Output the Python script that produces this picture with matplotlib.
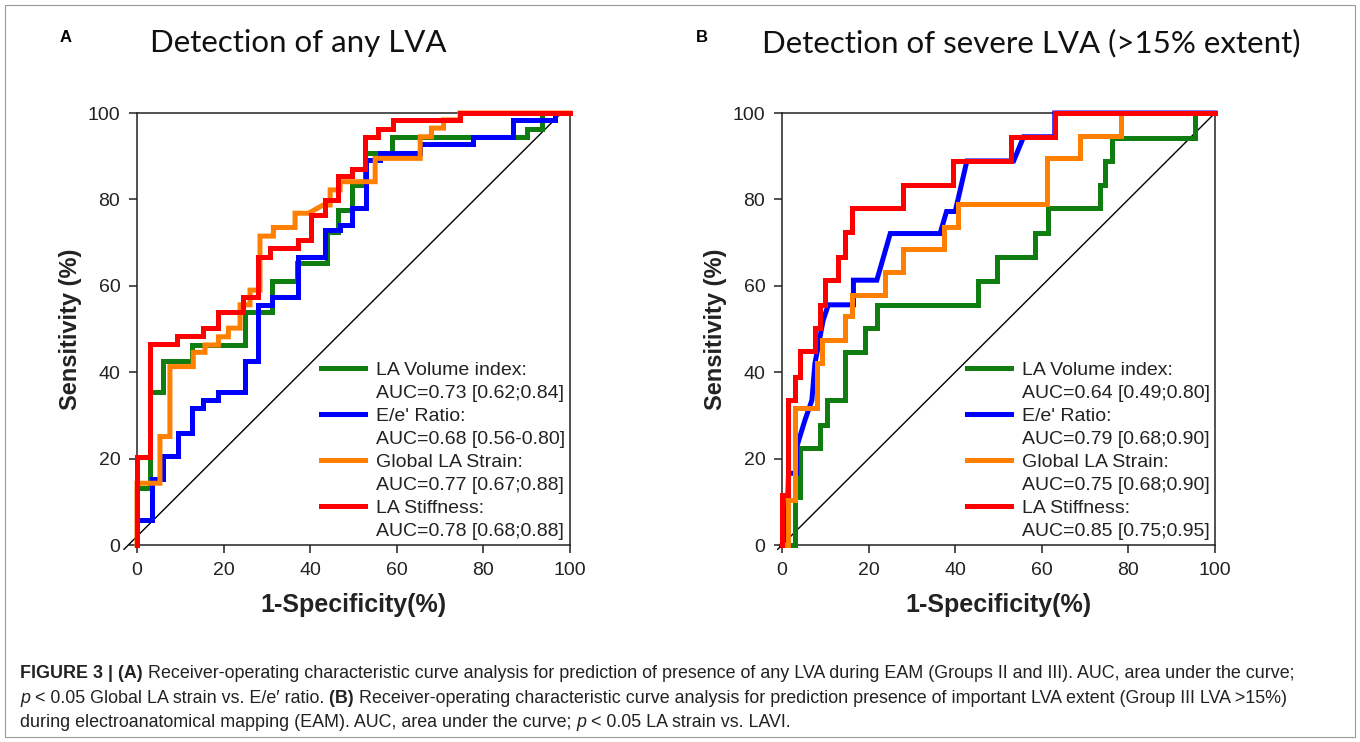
import matplotlib
matplotlib.use("Agg")
import matplotlib.pyplot as plt
from matplotlib.lines import Line2D
from matplotlib.patches import Rectangle

# ---------------- data ----------------
# Panel A: Detection of any LVA
a_lavi_x = [0, 0, 3, 3, 6.1, 6.1, 12.6, 12.6, 24.9, 24.9, 31.1, 31.1, 36.9, 36.9, 43.8, 43.8, 46.5, 46.5,
            49.6, 49.6, 52.7, 52.7, 58.8, 58.8, 90, 90, 93.5, 93.5, 100]
a_lavi_y = [0, 13.2, 13.2, 35.5, 35.5, 42.7, 42.7, 46.3, 46.3, 54, 54, 61.1, 61.1, 65.2, 65.2, 72.5, 72.5, 77.5,
            77.5, 83.3, 83.3, 90.7, 90.7, 94.5, 94.5, 96.3, 96.3, 100, 100]

a_ee_x = [0, 0, 3.4, 3.4, 6.1, 6.1, 9.5, 9.5, 12.6, 12.6, 15.3, 15.3, 18.8, 18.8, 24.9, 24.9, 28, 28, 31.1, 31.1,
          37.2, 37.2, 43.4, 43.4, 46.9, 46.9, 49.6, 49.6, 53, 53, 56.1, 56.1, 65.4, 65.4, 77.7, 77.7, 86.9, 86.9,
          96.5, 96.5, 100]
a_ee_y = [0, 5.8, 5.8, 15.2, 15.2, 20.6, 20.6, 26, 26, 31.6, 31.6, 33.6, 33.6, 35.5, 35.5, 42.7, 42.7, 55.6, 55.6, 57.5,
          57.5, 66.7, 66.7, 72.9, 72.9, 74, 74, 77.9, 77.9, 89.1, 89.1, 90.7, 90.7, 92.8, 92.8, 94.5, 94.5, 98.4,
          98.4, 100, 100]

a_strain_x = [0, 0, 5.3, 5.3, 7.6, 7.6, 13, 13, 15.7, 15.7, 18.8, 18.8, 21.1, 21.1, 23.8, 23.8, 26.1, 26.1, 28.4, 28.4,
              31.5, 31.5, 36.5, 36.5, 39.6, 43, 44.6, 44.6, 46.9, 46.9, 55, 55, 65.4, 65.4, 68, 68, 70.8, 70.8,
              74.6, 74.6, 100]
a_strain_y = [0, 14.3, 14.3, 25.1, 25.1, 41.3, 41.3, 44.6, 44.6, 46.3, 46.3, 48.2, 48.2, 50.2, 50.2, 55.6, 55.6, 59, 59, 71.5,
              71.5, 73.5, 73.5, 76.8, 76.8, 78.7, 78.7, 82.2, 82.2, 84.1, 84.1, 89.5, 89.5, 94.5, 94.5, 96.5, 96.5, 98.4,
              98.4, 100, 100]

a_stiff_x = [0, 0, 3, 3, 9.2, 9.2, 15.3, 15.3, 18.7, 18.7, 24.5, 24.5, 28, 28, 30.7, 30.7, 37.2, 37.2, 40.3, 40.3,
             43.4, 43.4, 46.5, 46.5, 49.6, 49.6, 52.7, 52.7, 55.7, 55.7, 59.1, 59.1, 74.6, 74.6, 100]
a_stiff_y = [0, 20.4, 20.4, 46.5, 46.5, 48.4, 48.4, 50.2, 50.2, 54, 54, 57.5, 57.5, 66.7, 66.7, 68.7, 68.7, 70.6, 70.6, 76.4,
             76.4, 79.9, 79.9, 85.4, 85.4, 87, 87, 94.5, 94.5, 96.3, 96.3, 98.4, 98.4, 100, 100]

# Panel B: Detection of severe LVA (>15% extent)
b_lavi_x = [0, 3, 3, 4.2, 4.2, 8.8, 8.8, 10.3, 10.3, 14.5, 14.5, 19.2, 19.2, 21.9, 21.9, 45.3, 45.3, 49.6, 49.6,
            58.4, 58.4, 61.5, 61.5, 73.4, 73.4, 74.6, 74.6, 76.1, 76.1, 95.4, 95.4, 100]
b_lavi_y = [0, 0, 11.2, 11.2, 22.4, 22.4, 27.8, 27.8, 33.6, 33.6, 44.7, 44.7, 50.2, 50.2, 55.6, 55.6, 61.1, 61.1, 66.7,
            66.7, 72.2, 72.2, 77.9, 77.9, 83.3, 83.3, 88.9, 88.9, 94.1, 94.1, 100, 100]

b_ee_x = [0, 1.2, 1.5, 3.4, 3.4, 5.3, 6.9, 7.6, 9.5, 10.7, 16.5, 16.5, 21.9, 25, 36.5, 38, 40, 42.7, 53.5, 55.8, 63, 63, 100]
b_ee_y = [0, 5, 16.6, 16.6, 22.7, 28.9, 33.5, 42.0, 52, 55.6, 55.6, 61.3, 61.3, 72.1, 72.1, 77.2, 77.2, 88.9, 88.9, 94.5,
          94.5, 100, 100]

b_strain_x = [0, 1.5, 1.5, 3, 3, 8, 8, 9.2, 9.2, 14.5, 14.5, 16.1, 16.1, 23.8, 23.8, 28, 28, 37.3, 37.3, 40.7, 40.7,
              61.1, 61.1, 68.8, 68.8, 78.4, 78.4, 100]
b_strain_y = [0, 0, 10.4, 10.4, 31.6, 31.6, 42.1, 42.1, 47.5, 47.5, 52.9, 52.9, 57.9, 57.9, 63.3, 63.3, 68.5, 68.5, 73.7,
              73.7, 78.9, 78.9, 89.5, 89.5, 94.7, 94.7, 100, 100]

b_stiff_x = [0, 0, 1.5, 1.5, 3, 3, 4.2, 4.2, 7.6, 7.6, 8.8, 8.8, 9.9, 9.9, 13, 13, 14.5, 14.5, 16.1, 16.1, 28, 28,
             39.6, 39.6, 53, 53, 63, 63, 100]
b_stiff_y = [0, 11.6, 11.6, 33.6, 33.6, 39, 39, 44.8, 44.8, 50.2, 50.2, 55.6, 55.6, 61.3, 61.3, 66.7, 66.7, 72.4, 72.4,
             77.9, 77.9, 83.3, 83.3, 88.9, 88.9, 94.5, 94.5, 100, 100]

series_names = ["LA Volume index:", "E/e' Ratio:", "Global LA Strain:", "LA Stiffness:"]
a_auc = ["AUC=0.73 [0.62;0.84]", "AUC=0.68 [0.56-0.80]", "AUC=0.77 [0.67;0.88]", "AUC=0.78 [0.68;0.88]"]
b_auc = ["AUC=0.64 [0.49;0.80]", "AUC=0.79 [0.68;0.90]", "AUC=0.75 [0.68;0.90]", "AUC=0.85 [0.75;0.95]"]
colors = ["#0f7d0f", "#0000ff", "#ff7f00", "#ff0000"]
ticks = [0, 20, 40, 60, 80, 100]
titles = ["Detection of any LVA", "Detection of severe LVA (>15% extent)"]
panel_letters = ["A", "B"]

# ---------------- fonts ----------------
sans = ["Liberation Sans", "DejaVu Sans"]
title_font = ["Lato", "DejaVu Sans"]
plt.rcParams["font.family"] = sans

fig = plt.figure(figsize=(13.6, 7.42), dpi=100)
W, H = 1360, 742

def fx(px):
    return px / W

def fy(py):
    return 1 - py / H

panels = [
    (137, [(a_lavi_x, a_lavi_y), (a_ee_x, a_ee_y), (a_strain_x, a_strain_y), (a_stiff_x, a_stiff_y)], a_auc,
     [(-3, -1), (98, 100)]),
    (782, [(b_lavi_x, b_lavi_y), (b_ee_x, b_ee_y), (b_strain_x, b_strain_y), (b_stiff_x, b_stiff_y)], b_auc,
     [(-1, -1), (100, 100)]),
]

axes = []
for i, (left_px, curves, aucs, diag) in enumerate(panels):
    ax = fig.add_axes([fx(left_px), fy(545), 433 / W, 432 / H])
    axes.append(ax)
    ax.plot([diag[0][0], diag[1][0]], [diag[0][1], diag[1][1]], color="black", lw=1.0, clip_on=False, zorder=2)
    handles, labels = [], []
    for (xs, ys), c, name, auc in zip(curves, colors, series_names, aucs):
        ax.plot(xs, ys, color=c, lw=3.6, solid_joinstyle="miter", clip_on=False, zorder=3)
        handles += [Line2D([], [], color=c, lw=3.6), Line2D([], [], color="none")]
        labels += [name, auc]
    ax.set_xlim(0, 100)
    ax.set_ylim(0, 100)
    ax.set_xticks(ticks)
    ax.set_yticks(ticks)
    ax.tick_params(direction="out", length=6, width=1.1, labelsize=14, pad=6, colors="#222222")
    for s in ax.spines.values():
        s.set_linewidth(1.1)
        s.set_color("#222222")
    ax.set_xlabel("1-Specificity(%)", fontsize=18, fontweight="bold", labelpad=10, color="#222222")
    ax.set_ylabel("Sensitivity (%)", fontsize=17, fontweight="bold", labelpad=4, color="#222222")
    leg = ax.legend(handles, labels, loc="lower right", bbox_to_anchor=(1.0, 0.0), frameon=False,
                    fontsize=14, handlelength=2.3, handletextpad=0.55, labelspacing=0.28,
                    borderaxespad=0.05, borderpad=0.2)
    for t in leg.get_texts():
        t.set_color("#222222")

fig.text(fx(60), fy(42), panel_letters[0], fontsize=12, fontweight="bold", va="baseline")
fig.text(fx(696), fy(42), panel_letters[1], fontsize=12, fontweight="bold", va="baseline")
fig.text(fx(150), fy(52), titles[0], fontsize=22.5, family=title_font, va="baseline", color="#111111")
fig.text(fx(762), fy(52), titles[1], fontsize=22.5, family=title_font, va="baseline", color="#111111")

# border
fig.patches.append(Rectangle((fx(5), fy(737)), fx(1350), (732) / H, transform=fig.transFigure,
                             fill=False, edgecolor="#9a9a9a", lw=0.8))

# caption (rich text)
fig.canvas.draw()
renderer = fig.canvas.get_renderer()
cap_size = 12.9
cap_color = "#222222"

def rich_line(x_px, y_px, segments):
    x = x_px
    for text, style in segments:
        kw = dict(fontsize=cap_size, family=sans, color=cap_color, va="baseline")
        if "b" in style:
            kw["fontweight"] = "bold"
        if "i" in style:
            kw["fontstyle"] = "italic"
        t = fig.text(fx(x), fy(y_px), text, **kw)
        bb = t.get_window_extent(renderer)
        x += bb.width

rich_line(20, 678, [("FIGURE 3 | (A) ", "b"),
                    ("Receiver-operating characteristic curve analysis for prediction of presence of any LVA during EAM (Groups II and III). AUC, area under the curve;", "")])
rich_line(20, 703, [("p", "i"), (" < 0.05 Global LA strain vs. E/e\u2032 ratio. ", ""), ("(B) ", "b"),
                    ("Receiver-operating characteristic curve analysis for prediction presence of important LVA extent (Group III LVA >15%)", "")])
rich_line(20, 727, [("during electroanatomical mapping (EAM). AUC, area under the curve; ", ""), ("p", "i"),
                    (" < 0.05 LA strain vs. LAVI.", "")])

fig.savefig("out.png", dpi=100)
